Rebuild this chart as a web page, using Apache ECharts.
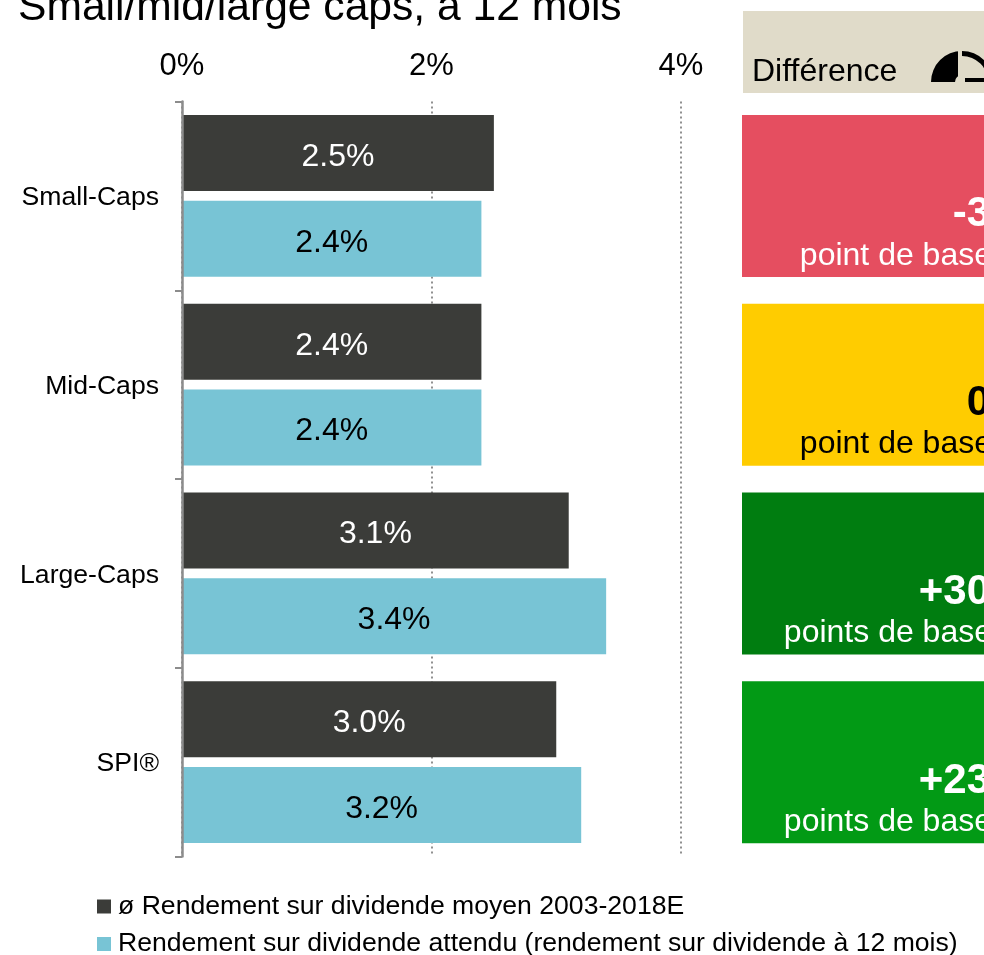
<!DOCTYPE html>
<html><head><meta charset="utf-8">
<style>html,body{margin:0;padding:0;background:#fff}#c{width:984px;height:955px}</style>
<script src="https://cdn.jsdelivr.net/npm/echarts@6/dist/echarts.min.js"></script>
</head><body><div id="c"></div>
<script>
const categories = ['Small-Caps','Mid-Caps','Large-Caps','SPI®'];
const averageYield = [2.5,2.4,3.1,3.0];
const expectedYield = [2.4,2.4,3.4,3.2];
const diffValues = ['-3','0','+30','+23'];
const diffUnits = ['point de base','point de base','points de base','points de base'];
const diffColors = ['#E54E60','#FFCC00','#007D10','#029A15'];
const diffText = ['#fff','#000','#fff','#fff'];
const panelFill = [1,1,1,1];
const seriesNames = ['ø Rendement sur dividende moyen 2003-2018E','Rendement sur dividende attendu (rendement sur dividende à 12 mois)'];
const titleText = 'Small/mid/large caps, à 12 mois';
const FONT = '"Liberation Sans", Arial, sans-serif';
const DARK = '#3B3C39', LIGHT = '#78C4D5', HEAD = '#E0DBC9';

const chart = echarts.init(document.getElementById('c'), null, {renderer:'canvas'});
chart.setOption({
  animation:false,
  textStyle:{fontFamily:FONT},
  title:{text:titleText,left:18,top:-13,padding:0,textStyle:{fontFamily:FONT,fontSize:42.6,fontWeight:'normal',color:'#000'}},
  legend:{orient:'vertical',left:97,top:893,height:90,itemWidth:14,itemHeight:14,itemGap:10.5,padding:0,
    icon:'rect',selectedMode:false,data:seriesNames,
    textStyle:{fontFamily:FONT,fontSize:26.6,color:'#000',padding:[5,0,0,2]}},
  grid:[
    {left:182,top:101.5,width:499,height:755,outerBoundsMode:'none'},
    {left:742,top:101.5,width:250,height:755,outerBoundsMode:'none'}
  ],
  xAxis:[
    {gridIndex:0,type:'value',position:'top',min:0,max:4,interval:2,
     axisLine:{show:false},axisTick:{show:false},
     axisLabel:{margin:20,fontSize:31,color:'#000',fontFamily:FONT,formatter:'{value}%'},
     splitLine:{show:true,lineStyle:{color:'#909090',width:2,type:[2,3]}}},
    {gridIndex:1,type:'value',min:0,max:1,show:false}
  ],
  yAxis:[
    {gridIndex:0,type:'category',inverse:true,data:categories,z:5,
     axisLine:{show:true,lineStyle:{color:'#8c8c8c',width:2.5}},
     axisTick:{show:true,length:7,lineStyle:{color:'#8c8c8c',width:2}},
     axisLabel:{margin:23,color:'#000',formatter:'{a|{value}}',
       rich:{a:{fontSize:26.6,fontFamily:FONT,color:'#000',padding:[4,0,0,0]}}}},
    {gridIndex:1,type:'category',inverse:true,data:categories,show:false}
  ],
  series:[
    {name:seriesNames[0],type:'bar',xAxisIndex:0,yAxisIndex:0,data:averageYield,barWidth:76,barGap:'13%',
     itemStyle:{color:DARK},
     label:{show:true,position:'inside',offset:[0,4],fontSize:32,color:'#fff',fontFamily:FONT,formatter:p=>p.value.toFixed(1)+'%'}},
    {name:seriesNames[1],type:'bar',xAxisIndex:0,yAxisIndex:0,data:expectedYield,barWidth:76,
     itemStyle:{color:LIGHT},
     label:{show:true,position:'inside',offset:[0,4],fontSize:32,color:'#000',fontFamily:FONT,formatter:p=>p.value.toFixed(1)+'%'}},
    {type:'bar',xAxisIndex:1,yAxisIndex:1,barWidth:162,silent:true,
     data:panelFill.map((v,i)=>({value:v,itemStyle:{color:diffColors[i]},
       label:{show:true,position:'insideRight',distance:0,offset:[0,41],align:'right',
         formatter:'{a|'+diffValues[i]+'}\n{b|'+diffUnits[i]+'}',
         rich:{a:{fontFamily:FONT,fontSize:42,fontWeight:'bold',color:diffText[i],align:'right',lineHeight:38,padding:[0,2,0,0]},
               b:{fontFamily:FONT,fontSize:32,color:diffText[i],align:'right',lineHeight:44}}}}))}
  ],
  graphic:[
    {type:'rect',silent:true,z:1,shape:{x:743,y:11,width:245,height:82},style:{fill:HEAD}},
    {type:'text',silent:true,z:2,style:{x:752,y:72,text:'Différence',font:'32px '+FONT,fill:'#000',textVerticalAlign:'middle'}},
    {type:'sector',silent:true,z:2,shape:{cx:962,cy:82,r:31,r0:7,startAngle:Math.PI,endAngle:Math.PI*1.5},style:{fill:'#000'}},
    {type:'rect',silent:true,z:3,shape:{x:958,y:48,width:4,height:35},style:{fill:HEAD}},
    {type:'sector',silent:true,z:2,shape:{cx:962,cy:82,r:31,r0:26,startAngle:Math.PI*1.5,endAngle:Math.PI*2},style:{fill:'#000'}},
    {type:'rect',silent:true,z:2,shape:{x:965,y:78,width:30,height:4},style:{fill:'#000'}}
  ]
});
</script></body></html>
